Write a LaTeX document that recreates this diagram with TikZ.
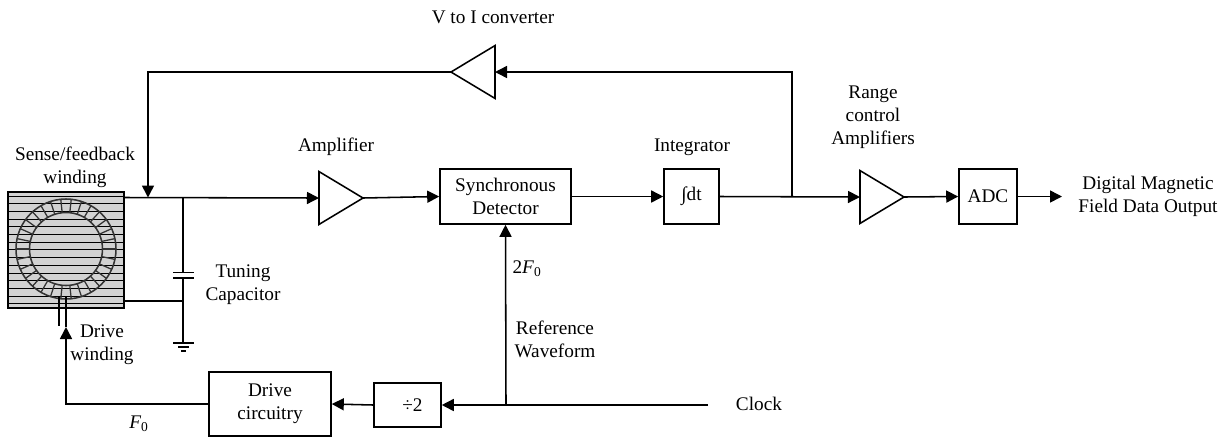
\documentclass[tikz,border=0pt]{standalone}
\usepackage{fontspec}
\setmainfont{Liberation Serif}
\usetikzlibrary{shapes.geometric, arrows.meta, positioning}
\tikzset{
	block/.style={draw, line width=1.1pt, inner sep=0pt, align=center},
	amp/.style={draw, line width=1.1pt, isosceles triangle, isosceles triangle apex angle=62, inner sep=0pt, outer sep=0pt, minimum height=1.1cm},
	lbl/.style={align=center, inner sep=0pt, font=\fontsize{13.7}{16.4}\selectfont},
	wire/.style={line width=1.1pt},
	arrow/.style={wire, -{Triangle[length=3mm,width=3mm]}}
}
\begin{document}
\begin{tikzpicture}[x=0.025cm, y=-0.025cm]
			\useasboundingbox (0,0) rectangle (1224,437);
			
			%% winding
			\node[block, fill=gray!35, line width=.8pt, minimum size=2.9cm] (winding) at (66,250) {};
			\foreach \y in {196,203.7,...,306}
			\draw[line width=.6pt] (8,\y)--(124,\y);
			\draw[black!80, line width=1.1pt] (66,249) circle (50) circle (36.5);
			\foreach \a in {0,12,...,348}
			\draw[black!80, line width=.9pt] (66,249)++(\a:36.5)--++(\a:13.5);
			
			%% blocks
			\node[amp, shape border rotate=180, anchor=apex] (vi) at (451,72) {};
			\node[amp, anchor=apex] (amplifier) at (363,198) {};
			\node[amp, anchor=apex] (range) at (904,197) {};
			\node[block, lbl, minimum width=3.275cm, minimum height=1.375cm] (sync) at (505.5,196.5) {Synchronous\\Detector};
			\node[block, lbl, minimum width=1.375cm, minimum height=1.375cm] (integ) at (691.5,196.5) {∫dt};
			\node[block, lbl, minimum width=1.45cm, minimum height=1.375cm] (adc) at (988,196.5) {ADC};
			\node[block, lbl, minimum width=3.05cm, minimum height=1.6cm] (drive) at (270,404) {Drive\\circuitry};
			\node[block, lbl, minimum width=1.675cm, minimum height=1.1cm] (div) at (407.5,405) {\hspace*{.25cm}÷2};
			
			%% text
			\node[lbl] (vilabel) at (493,17) {V to I converter};
			\node[lbl] (senselabel) at (75,167.5) {Sense/feedback\\winding};
			\node[lbl] (amplabel) at (336,147) {Amplifier};
			\node[lbl] (integlabel) at (692,147) {Integrator};
			\node[lbl] (rangelabel) at (873,117) {Range\\control\\Amplifiers};
			\node[lbl] (outlabel) at (1148,196.5) {Digital Magnetic\\Field Data Output};
			\node[lbl] (tunelabel) at (243,284.5) {Tuning\\Capacitor};
			\node[lbl] (drivelabel) at (102,345) {Drive\\winding};
			\node[lbl] (flabel) at (139,424) {\textit{F}\textsubscript{0}};
			\node[lbl] (twoflabel) at (527,269) {2\textit{F}\textsubscript{0}};
			\node[lbl] (reflabel) at (555,339) {Reference\\Waveform};
			\node[lbl] (clocklabel) at (759,404) {Clock};
			
			%% top line, feedback
			\coordinate (top) at (148,197.5);
			\coordinate (tap) at (792,196.5);
			\draw[arrow] (vi.apex)-|(top);
			\draw[arrow] (tap)|-(vi.lower side);
			\draw[arrow] (124,197.5)--(amplifier.lower side);
			\draw[arrow] (amplifier.apex)--(sync.west);
			\draw[arrow] (sync.east)--(integ.west);
			\draw[arrow] (integ.east)--(range.lower side);
			\draw[arrow] (range.apex)--(adc.west);
			\coordinate (outend) at (1062,196.5);
			\draw[arrow] (adc.east)--(outend);
			
			%% capacitor
			\coordinate (capin) at (183,197.5);
			\coordinate (plateA) at (183,272.5);
			\coordinate (plateB) at (183,278);
			\coordinate (gnd) at (183,343);
			\draw[wire] (capin)--(plateA);
			\draw[wire] (plateB)--(gnd);
			\draw[wire] (173,272.5)--(194,272.5);
			\draw[wire] (173,278)--(194,278);
			\draw[wire] (124,301)--(183,301);
			\draw[wire] (173,343)--(194,343);
			\draw[wire] (178,347)--(189,347);
			\draw[wire] (181,351)--(186,351);
			
			%% clock, drive
			\coordinate (clockend) at (708,405);
			\coordinate (refup) at (506,405);
			\coordinate (drivetip) at (66,327);
			\draw[arrow] (clockend)--(div.east);
			\draw[arrow] (refup)--(sync.south);
			\draw[arrow] (div.west)--(drive.east);
			\draw[arrow] (drive.west)-|(drivetip);
			\draw[wire] (drivetip)--(66,297);
			\draw[wire] (59,297)--(59,326);
		\end{tikzpicture}
\end{document}
